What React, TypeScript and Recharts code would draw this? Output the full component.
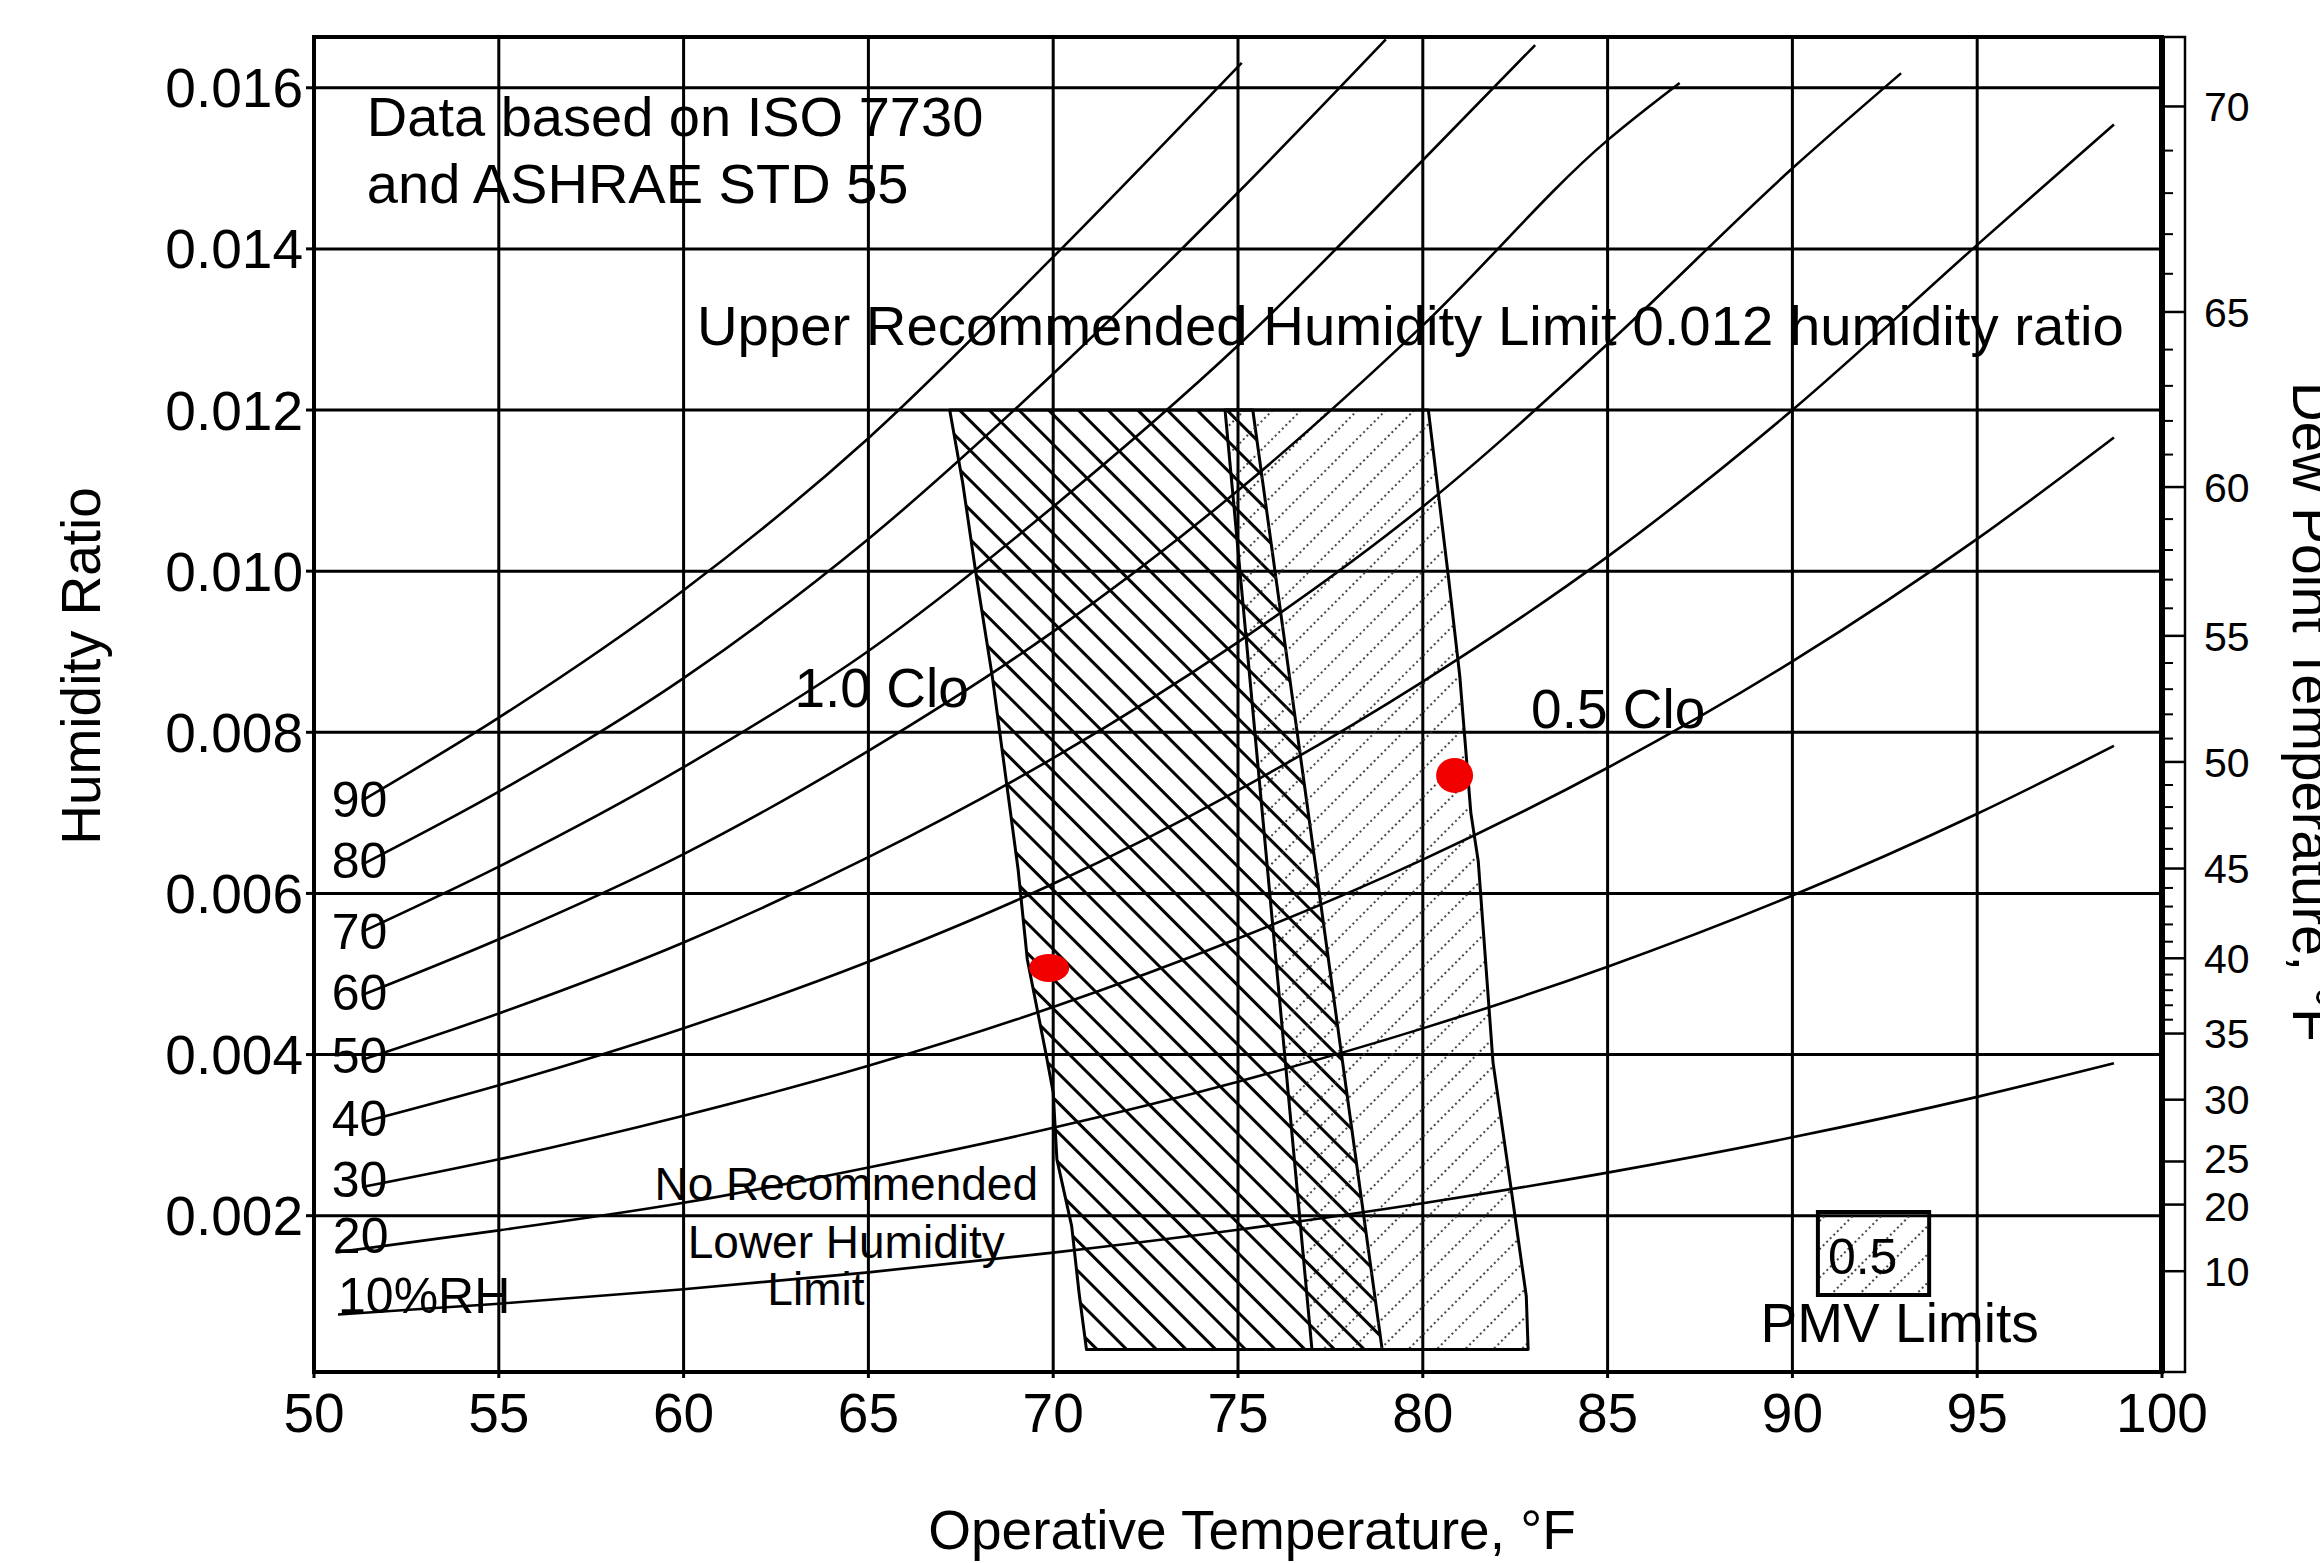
import React from 'react';
import {
  ComposedChart,
  Scatter,
  XAxis,
  YAxis,
  CartesianGrid,
  ReferenceArea,
  ReferenceLine,
} from 'recharts';

const FONT = '"Liberation Sans", Arial, Helvetica, sans-serif';

// ---- axes ----
const W_MIN = 0.00006;
const W_MAX = 0.01663;
const tempTicks = [50, 55, 60, 65, 70, 75, 80, 85, 90, 95, 100];
const ratioTicks = [0.002, 0.004, 0.006, 0.008, 0.01, 0.012, 0.014, 0.016];

// dew point axis (labels and the humidity ratio where each sits)
const dewPointLabels = [10, 20, 25, 30, 35, 40, 45, 50, 55, 60, 65, 70];
const dewPointRatios = [0.001311, 0.002138, 0.002673, 0.00344, 0.004261, 0.005195, 0.006309, 0.007632, 0.009197, 0.011044, 0.013217, 0.015768];
const dewPointLabelShift = [0, 2, -3, 0, 0, 0, 0, 0, 0, 0, 0, 0];
const dewPointMinorRatios = [
  0.004433, 0.004612, 0.004799, 0.004993,
  0.005401, 0.005615, 0.005837, 0.006068,
  0.006553, 0.006808, 0.007072, 0.007346,
  0.007922, 0.008223, 0.008535, 0.00886,
  0.009539, 0.009895, 0.010263, 0.010646,
  0.011447, 0.011865, 0.0123, 0.01275,
  0.013691, 0.014183, 0.014692, 0.01522,
];

// ---- relative humidity curves: [temperature °F, humidity ratio] ----
const rh10 = [[50.65, 0.000773], [55, 0.000908], [60, 0.001087], [65, 0.001297], [70, 0.001542], [75, 0.001826], [80, 0.002155], [85, 0.002535], [90, 0.002973], [95, 0.003475], [98.7, 0.003891]];
const rh20 = [[50.6, 0.001545], [55, 0.001818], [60, 0.00216], [65, 0.002599], [70, 0.003091], [75, 0.003663], [80, 0.004325], [85, 0.005091], [90, 0.005974], [95, 0.006989], [98.7, 0.007831]];
const rh30 = [[51.3, 0.002355], [55, 0.0027], [60, 0.00324], [65, 0.00386], [70, 0.00459], [75, 0.00544], [80, 0.00642], [85, 0.00756], [90, 0.00888], [95, 0.0104], [98.7, 0.01166]];
const rh40 = [[51.3, 0.00316], [55, 0.00362], [60, 0.004327], [65, 0.005152], [70, 0.00612], [75, 0.00728], [80, 0.00863], [85, 0.01018], [90, 0.012], [95, 0.01405], [98.7, 0.015545]];
const rh50 = [[51.3, 0.003934], [55, 0.00451], [60, 0.005391], [65, 0.00645], [70, 0.00768], [75, 0.00912], [80, 0.0108], [85, 0.01282], [90, 0.015], [92.94, 0.01618]];
const rh60 = [[51.3, 0.004738], [55, 0.005431], [60, 0.006488], [65, 0.00777], [70, 0.00925], [75, 0.011], [80, 0.01305], [85, 0.01535], [86.95, 0.01606]];
const rh70 = [[51.3, 0.005523], [55, 0.006332], [60, 0.007567], [65, 0.009009], [70, 0.0108], [75, 0.0128], [80, 0.0151], [83.04, 0.01653]];
const rh80 = [[51.3, 0.006357], [55, 0.007263], [60, 0.008672], [65, 0.0104], [70, 0.01245], [75, 0.0147], [79, 0.0166]];
const rh90 = [[51.3, 0.007152], [55, 0.008182], [60, 0.009763], [65, 0.01165], [70, 0.0139], [75.1, 0.01631]];

// ---- comfort zones (polygons) ----
const zoneClo10 = [[67.2, 0.012], [75.4, 0.012], [78.9, 0.00034], [70.9, 0.00034], [70.7, 0.00104], [70.5, 0.00187], [70.1, 0.0027], [70.0, 0.00353], [69.8, 0.00402], [69.3, 0.00518], [69.05, 0.0063], [68.7, 0.0075], [68.35, 0.0087], [67.9, 0.01], [67.55, 0.0111]];
const zoneClo05 = [[74.65, 0.012], [80.15, 0.012], [80.7, 0.0099], [81.0, 0.0087], [81.3, 0.007], [81.5, 0.0064], [81.9, 0.0039], [82.4, 0.0023], [82.8, 0.001], [82.85, 0.00034], [77.0, 0.00034]];

// ---- PMV legend box ----
const pmvBoxT = [90.69, 93.7];
const pmvBoxW = [0.001016, 0.002046];

// ---- red points ----
const redPoints = [[69.89, 0.005075, 20, 14], [80.86, 0.007465, 18.5, 17.5]];

// ---- text annotations: [t, w (baseline), text, font size, anchor] ----
const noteRows: [number, number, string, number, string][] = [
  [51.43, 0.015401, 'Data based on ISO 7730', 56, 'start'],
  [51.43, 0.01457, 'and ASHRAE STD 55', 56, 'start'],
  [60.36, 0.012807, 'Upper Recommended Humidity Limit 0.012 humidity ratio', 56.3, 'start'],
  [63.0, 0.008314, '1.0 Clo', 55, 'start'],
  [82.93, 0.008054, '0.5 Clo', 55, 'start'],
  [64.4, 0.002195, 'No Recommended', 46, 'middle'],
  [64.4, 0.001475, 'Lower Humidity', 46, 'middle'],
  [63.58, 0.000892, 'Limit', 46, 'middle'],
  [89.14, 0.000433, 'PMV Limits', 55, 'start'],
  [90.96, 0.001277, '0.5', 50, 'start'],
];
const rhLabelRows: [number, number, string][] = [
  [50.48, 0.006949, '90'],
  [50.48, 0.006197, '80'],
  [50.48, 0.005311, '70'],
  [50.48, 0.004559, '60'],
  [50.48, 0.003772, '50'],
  [50.48, 0.00299, '40'],
  [50.48, 0.002233, '30'],
  [50.51, 0.001538, '20'],
  [50.65, 0.000793, '10%RH'],
];

const toPts = (arr: number[][]) => arr.map(([t, w]) => ({ t, w }));
const rhCurves = [rh10, rh20, rh30, rh40, rh50, rh60, rh70, rh80, rh90].map(toPts);
const notes = noteRows.map(([t, w, text, size, anchor]) => ({ t, w, text, size, anchor }));
const rhLabels = rhLabelRows.map(([t, w, text]) => ({ t, w, text, size: 50, anchor: 'start' }));
const reds = redPoints.map(([t, w, rx, ry]) => ({ t, w, rx, ry }));
const dpTicks = [...dewPointRatios, ...dewPointMinorRatios].sort((a, b) => a - b);

const Empty = () => <g />;

const Defs = () => (
  <defs>
    <pattern id="hatchBack" patternUnits="userSpaceOnUse" width="21" height="21" patternTransform="rotate(-45)">
      <line x1="10.5" y1="0" x2="10.5" y2="21" stroke="#000" strokeWidth="3" />
    </pattern>
    <pattern id="hatchFwd" patternUnits="userSpaceOnUse" width="20" height="20" patternTransform="rotate(45)">
      <line x1="10" y1="0" x2="10" y2="20" stroke="#333" strokeWidth="1.8" strokeDasharray="2 3" />
    </pattern>
  </defs>
);

const zoneLine = (fillId: string, withDefs: boolean) => (p: any) => (
  <g>
    {withDefs && <Defs />}
    <polygon
      points={(p.points || []).map((q: any) => `${q.x},${q.y}`).join(' ')}
      fill={`url(#${fillId})`}
      stroke="#000"
      strokeWidth={3}
      strokeLinejoin="round"
    />
  </g>
);

const TextShape = (p: any) => (
  <text
    x={p.cx}
    y={p.cy}
    fontSize={p.payload.size}
    textAnchor={p.payload.anchor}
    fontFamily={FONT}
    fill="#000"
  >
    {p.payload.text}
  </text>
);

const RedShape = (p: any) => <ellipse cx={p.cx} cy={p.cy} rx={p.payload.rx} ry={p.payload.ry} fill="#f20000" />;

const DewTick = (props: any) => {
  const { x, y, payload } = props;
  const idx = dewPointRatios.indexOf(payload.value);
  const major = idx >= 0;
  return (
    <g>
      <line x1={x} x2={x + (major ? 23 : 11)} y1={y} y2={y} stroke="#000" strokeWidth={major ? 2.5 : 2} />
      {major && (
        <text x={x + 42} y={y + dewPointLabelShift[idx]} dy="0.36em" fontSize={41} fontFamily={FONT} fill="#000">
          {dewPointLabels[idx]}
        </text>
      )}
    </g>
  );
};

const LeftTitle = () => (
  <text x={100} y={666} transform="rotate(-90 100 666)" textAnchor="middle" fontSize={55} fontFamily={FONT} fill="#000">
    Humidity Ratio
  </text>
);

const BottomTitle = () => (
  <text x={1252} y={1549} textAnchor="middle" fontSize={55} fontFamily={FONT} fill="#000">
    Operative Temperature, °F
  </text>
);

const RightDecor = () => (
  <g>
    <rect x={2162} y={37} width={23} height={1335} fill="none" stroke="#000" strokeWidth={2.5} />
    <text x={2293} y={712} transform="rotate(90 2293 712)" textAnchor="middle" fontSize={55} fontFamily={FONT} fill="#000">
      Dew Point Temperature, °F
    </text>
  </g>
);

export default function App() {
  return (
    <div style={{ position: 'absolute', left: 0, top: 0, width: 2320, height: 1563, background: '#fff' }}>
      <ComposedChart width={2320} height={1563} margin={{ top: 37, right: 58, bottom: 91, left: 114 }}>
        <CartesianGrid stroke="#000" strokeWidth={3} />
        <XAxis
          dataKey="t"
          type="number"
          domain={[50, 100]}
          allowDataOverflow
          ticks={tempTicks}
          interval={0}
          height={100}
          tickSize={6}
          tickMargin={15}
          axisLine={{ stroke: '#000', strokeWidth: 4 }}
          tickLine={{ stroke: '#000', strokeWidth: 3 }}
          tick={{ fill: '#000', fontSize: 55, fontFamily: FONT }}
          label={<BottomTitle />}
        />
        <YAxis
          dataKey="w"
          type="number"
          domain={[W_MIN, W_MAX]}
          allowDataOverflow
          ticks={ratioTicks}
          interval={0}
          width={200}
          tickSize={8}
          tickMargin={3}
          tickFormatter={(v: number) => v.toFixed(3)}
          axisLine={{ stroke: '#000', strokeWidth: 4 }}
          tickLine={{ stroke: '#000', strokeWidth: 3 }}
          tick={{ fill: '#000', fontSize: 55, fontFamily: FONT }}
          label={<LeftTitle />}
        />
        <YAxis
          yAxisId="dp"
          orientation="right"
          dataKey="w"
          type="number"
          domain={[W_MIN, W_MAX]}
          allowDataOverflow
          ticks={dpTicks}
          interval={0}
          width={100}
          tickSize={0}
          tickMargin={0}
          tickLine={false}
          axisLine={{ stroke: '#000', strokeWidth: 6 }}
          tick={<DewTick />}
          label={<RightDecor />}
        />
        <ReferenceArea x1={50} x2={100} y1={W_MIN} y2={W_MAX} fill="none" fillOpacity={0} stroke="#000" strokeWidth={4} />
        <ReferenceLine x={100} stroke="#000" strokeWidth={6} />

        <Scatter yAxisId="dp" data={[{ t: 50, w: 0.005 }]} shape={<Empty />} isAnimationActive={false} />

        <Scatter data={toPts(zoneClo10)} shape={<Empty />} line={zoneLine('hatchBack', true)} isAnimationActive={false} />
        <Scatter data={toPts(zoneClo05)} shape={<Empty />} line={zoneLine('hatchFwd', false)} isAnimationActive={false} />

        <ReferenceArea
          x1={pmvBoxT[0]}
          x2={pmvBoxT[1]}
          y1={pmvBoxW[0]}
          y2={pmvBoxW[1]}
          fill="url(#hatchFwd)"
          fillOpacity={1}
          stroke="#000"
          strokeWidth={4}
        />

        {rhCurves.map((d, i) => (
          <Scatter
            key={`rh${i}`}
            data={d}
            fill="#000"
            shape={<Empty />}
            line={{ stroke: '#000', strokeWidth: 2.6 }}
            lineJointType="monotoneX"
            isAnimationActive={false}
          />
        ))}

        <Scatter data={notes} shape={<TextShape />} isAnimationActive={false} />
        <Scatter data={rhLabels} shape={<TextShape />} isAnimationActive={false} />
        <Scatter data={reds} shape={<RedShape />} isAnimationActive={false} />
      </ComposedChart>
    </div>
  );
}
